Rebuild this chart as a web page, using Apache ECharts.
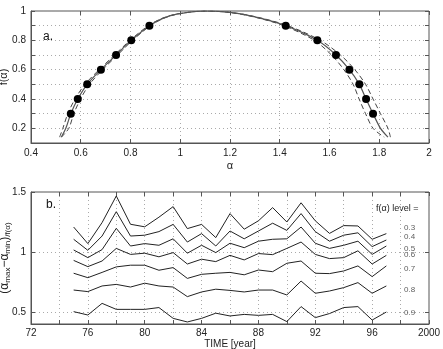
<!DOCTYPE html>
<html><head><meta charset="utf-8">
<script src="https://cdn.jsdelivr.net/npm/echarts@6/dist/echarts.min.js"></script>
<style>html,body{margin:0;padding:0;background:#fff}#c{width:443px;height:349px}</style>
</head><body><div id="c"></div>
<script>
// ---- panel a: f(alpha) spectra ----
const fGrid = [0.14,0.2,0.3,0.4,0.5,0.6,0.7,0.8,0.9,0.95,0.98,1.0,0.99,0.96,0.9,0.8,0.7,0.6,0.5,0.4,0.3,0.2,0.14];
const alphaMid = [0.522,0.54,0.56,0.588,0.626,0.681,0.742,0.803,0.876,0.93,0.99,1.1,1.2,1.3,1.424,1.551,1.626,1.68,1.72,1.747,1.775,1.805,1.835];
const alphaLow = [0.515,0.528,0.548,0.577,0.617,0.674,0.736,0.798,0.872,0.927,0.988,1.1,1.197,1.295,1.416,1.539,1.608,1.658,1.695,1.719,1.745,1.775,1.82];
const alphaHigh = [0.522,0.552,0.572,0.599,0.635,0.688,0.748,0.808,0.88,0.933,0.992,1.1,1.203,1.305,1.432,1.563,1.644,1.702,1.745,1.775,1.805,1.835,1.845];
const dotF = [0.3,0.4,0.5,0.6,0.7,0.8,0.9];
const dotAlphaLeft = [0.56,0.588,0.626,0.681,0.742,0.803,0.876];
const dotAlphaRight = [1.775,1.747,1.72,1.68,1.626,1.551,1.424];

// ---- panel b: width of spectrum vs time ----
const years = [75,76,77,78,79,80,81,82,83,84,85,86,87,88,89,90,91,92,93,94,95,96,97];
const w03 = [1.208,1.07,1.245,1.467,1.231,1.21,1.29,1.378,1.195,1.23,1.12,1.32,1.19,1.26,1.37,1.25,1.41,1.26,1.155,1.22,1.217,1.106,1.153];
const w04 = [1.106,1.014,1.133,1.336,1.133,1.14,1.17,1.23,1.083,1.153,1.05,1.175,1.11,1.175,1.24,1.18,1.32,1.17,1.09,1.14,1.16,1.045,1.10];
const w05 = [1.017,0.953,1.02,1.197,1.05,1.07,1.056,1.11,0.99,1.056,0.995,1.073,1.036,1.09,1.106,1.11,1.208,1.073,1.03,1.056,1.09,0.98,1.05];
const w06 = [0.93,0.878,0.925,1.03,0.98,0.99,0.96,0.995,0.9,0.94,0.92,0.972,0.934,0.987,0.978,1.03,1.083,0.98,0.945,0.953,1.01,0.9,0.972];
const w07 = [0.823,0.786,0.83,0.876,0.89,0.89,0.848,0.87,0.78,0.814,0.823,0.83,0.81,0.85,0.836,0.906,0.925,0.823,0.82,0.842,0.884,0.795,0.884];
const w08 = [0.683,0.67,0.717,0.73,0.708,0.74,0.717,0.708,0.628,0.667,0.69,0.68,0.667,0.683,0.683,0.642,0.758,0.656,0.675,0.703,0.745,0.656,0.717];
const w09 = [0.503,0.475,0.572,0.522,0.522,0.522,0.537,0.447,0.417,0.447,0.49,0.467,0.48,0.472,0.48,0.42,0.545,0.453,0.487,0.537,0.545,0.433,0.5];
const levelNames = ['0.3','0.4','0.5','0.6','0.7','0.8','0.9'];
const levelLabelX = 98.24;
const levelLabelY = [1.203,1.125,1.028,0.973,0.856,0.689,0.495];
const levelTitle = 'f(α) level =';

const font = 'Liberation Sans, Arial, sans-serif';
const frame = '#555';
const gridCol = '#aaa';

function zip(a,b){return a.map((v,i)=>[v,b[i]]);}

const chart = echarts.init(document.getElementById('c'), null, {renderer:'canvas'});
const lbl = {color:'#222', fontSize:10, fontFamily:font};
const dashedSplit = {show:true, lineStyle:{color:gridCol, type:[1,3], width:1}};

const option = {
  animation:false,
  backgroundColor:'#fff',
  grid:[
    {left:31, top:11, width:398, height:132, show:true, borderColor:frame, borderWidth:1, containLabel:false, outerBoundsMode:'none'},
    {left:31, top:192, width:398, height:132, show:true, borderColor:frame, borderWidth:1, containLabel:false, outerBoundsMode:'none'}
  ],
  xAxis:[
    {gridIndex:0, type:'value', min:0.4, max:2, interval:0.2,
     name:'α', nameLocation:'middle', nameGap:17, nameMoveOverlap:false, nameTextStyle:{color:'#222', fontSize:11, fontFamily:font},
     axisLine:{lineStyle:{color:frame}}, axisTick:{inside:true, length:4, lineStyle:{color:frame}},
     axisLabel:Object.assign({margin:5, formatter:v=>String(+v.toFixed(1))}, lbl),
     splitLine:dashedSplit},
    {gridIndex:0, type:'value', position:'top', min:0.4, max:2, interval:0.2,
     axisLine:{show:false}, axisTick:{inside:true, length:4, lineStyle:{color:frame}}, axisLabel:{show:false}, splitLine:{show:false}},
    {gridIndex:1, type:'value', min:72, max:100, interval:2,
     name:'TIME [year]', nameLocation:'middle', nameGap:15, nameMoveOverlap:false, nameTextStyle:{color:'#222', fontSize:10, fontFamily:font},
     axisLine:{lineStyle:{color:frame}}, axisTick:{inside:true, length:4, lineStyle:{color:frame}},
     axisLabel:Object.assign({margin:4, showMinLabel:true, showMaxLabel:true,
        formatter:v=> (Math.round(v)%4===0) ? (v===100?'2000':String(v)) : ''}, lbl),
     splitLine:dashedSplit},
    {gridIndex:1, type:'value', position:'top', min:72, max:100, interval:2,
     axisLine:{show:false}, axisTick:{inside:true, length:4, lineStyle:{color:frame}}, axisLabel:{show:false}, splitLine:{show:false}}
  ],
  yAxis:[
    {gridIndex:0, type:'value', min:0.1, max:1, interval:0.1,
     name:'f(α)', nameLocation:'middle', nameGap:22, nameRotate:90, nameMoveOverlap:false, nameTextStyle:{color:'#222', fontSize:11, fontFamily:font},
     axisLine:{show:true, lineStyle:{color:frame}}, axisTick:{show:true, inside:true, length:4, lineStyle:{color:frame}},
     axisLabel:Object.assign({margin:5, showMaxLabel:true, formatter:v=>{const k=Math.round(v*10); return (k%2===0)?String(k/10):'';}}, lbl),
     splitLine:dashedSplit},
    {gridIndex:0, type:'value', position:'right', min:0.1, max:1, interval:0.1,
     axisLine:{show:false}, axisTick:{show:true, inside:true, length:4, lineStyle:{color:frame}}, axisLabel:{show:false}, splitLine:{show:false}},
    {gridIndex:1, type:'value', min:0.4, max:1.5,
     name:'{b|(α}{s|max}{b|−α}{s|min}{b|)}{s|/f(α)}', nameLocation:'middle', nameGap:19, nameRotate:90, nameMoveOverlap:false,
     nameTextStyle:{color:'#222', fontFamily:font, rich:{b:{fontSize:12, fontFamily:font, color:'#222'}, s:{fontSize:8, fontFamily:font, color:'#222', verticalAlign:'bottom', padding:[6,0,0,0]}}},
     axisLine:{show:true, lineStyle:{color:frame}},
     axisTick:{show:true, inside:true, length:4, lineStyle:{color:frame}, customValues:[0.5,1,1.5]},
     axisLabel:Object.assign({margin:5, customValues:[0.5,1,1.5], formatter:v=>String(v)}, lbl),
     splitLine:dashedSplit},
    {gridIndex:1, type:'value', position:'right', min:0.4, max:1.5,
     axisLine:{show:false}, axisTick:{show:true, inside:true, length:4, lineStyle:{color:frame}, customValues:[0.5,1,1.5]},
     axisLabel:{show:false}, splitLine:{show:false}}
  ],
  series:[
    {type:'line', xAxisIndex:0, yAxisIndex:0, data:zip(alphaLow,fGrid), smooth:0.3, symbol:'none', lineStyle:{color:'#444', width:1, type:[5,3]}},
    {type:'line', xAxisIndex:0, yAxisIndex:0, data:zip(alphaHigh,fGrid), smooth:0.3, symbol:'none', lineStyle:{color:'#444', width:1, type:[5,3]}},
    {type:'line', xAxisIndex:0, yAxisIndex:0, data:zip(alphaMid,fGrid), smooth:0.3, symbol:'none', lineStyle:{color:'#555', width:1.2}},
    {type:'scatter', xAxisIndex:0, yAxisIndex:0, z:5, data:zip(dotAlphaLeft,dotF).concat(zip(dotAlphaRight,dotF)), symbol:'circle', symbolSize:8, itemStyle:{color:'#000', opacity:1}},
  ].concat([w03,w04,w05,w06,w07,w08,w09].map(w=>({
    type:'line', xAxisIndex:2, yAxisIndex:2, data:zip(years,w), symbol:'none', lineStyle:{color:'#222', width:1}
  }))).concat([
    {type:'scatter', xAxisIndex:2, yAxisIndex:2, symbolSize:0,
     data:levelNames.map((n,i)=>({value:[levelLabelX, levelLabelY[i]], name:n})),
     label:{show:true, position:'right', distance:0, formatter:p=>p.name, color:'#333', fontSize:8, fontFamily:font}}
  ]),
  graphic:[
    {type:'text', left:43, top:31, style:{text:'a.', fontSize:12, fontFamily:font, fill:'#111'}},
    {type:'text', left:46, top:199, style:{text:'b.', fontSize:12, fontFamily:font, fill:'#111'}},
    {type:'text', left:376, top:204, style:{text:levelTitle, fontSize:9, fontFamily:font, fill:'#222'}}
  ]
};
chart.setOption(option);
</script></body></html>
